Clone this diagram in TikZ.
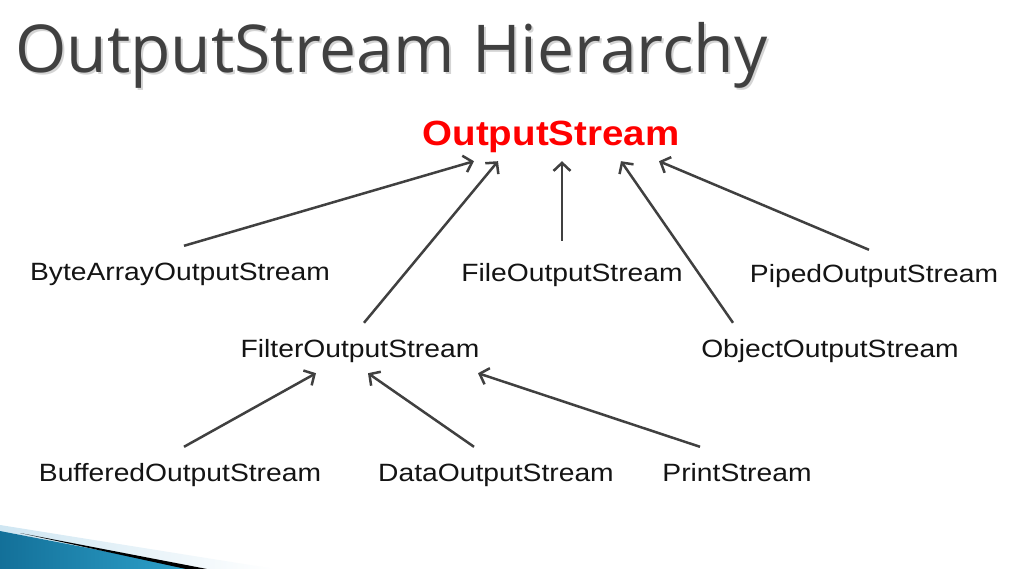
\documentclass[tikz,border=0pt]{standalone}
\usepackage{fontspec}
\setmainfont{Liberation Sans}
\newfontfamily\titlefont{Open Sans}
\usetikzlibrary{arrows.meta}

\definecolor{titlegray}{HTML}{404040}
\definecolor{shadowgray}{HTML}{D4D4D4}
\definecolor{arrowgray}{HTML}{404040}
\definecolor{rootred}{HTML}{FF0000}
\definecolor{slideblue}{HTML}{2FA3CC}
\definecolor{slidedark}{HTML}{137099}
\definecolor{slidelight}{HTML}{CFE6F2}

\tikzset{
  cls/.style={inner sep=0pt, anchor=base, xscale=1.13, text=black!92,
    font=\fontsize{25}{30}\selectfont, text height=18pt, text depth=5pt},
  root/.style={inner sep=0pt, anchor=base, xscale=1.1, text=rootred,
    font=\fontsize{35}{42}\selectfont\bfseries, text height=26pt, text depth=8pt},
  inherit/.style={draw=arrowgray, line width=2.5pt,
    -{Straight Barb[length=8pt,width=17pt,line width=2.5pt]}}
}

\begin{document}
\begin{tikzpicture}[x=1pt,y=-1pt]
			\useasboundingbox (0,0) rectangle (1033,569);
			\fill[white] (0,0) rectangle (1033,569);
			
			% Title with soft shadow
			\node[anchor=base west, inner sep=0pt, text=shadowgray, font=\titlefont\fontsize{66}{76}\selectfont] at (17,75) {OutputStream Hierarchy};
			\node[anchor=base west, inner sep=0pt, text=titlegray, font=\titlefont\fontsize{66}{76}\selectfont] (title) at (15,73) {OutputStream Hierarchy};
			
			% Base class
			\node[root] (out) at (551,146) {OutputStream};
			
			% Direct subclasses
			\node[cls] (bytearray) at (180,280) {ByteArrayOutputStream};
			\node[cls] (file) at (572,281) {FileOutputStream};
			\node[cls] (piped) at (874,283) {PipedOutputStream};
			\node[cls] (filter) at (360,357) {FilterOutputStream};
			\node[cls] (object) at (830,357) {ObjectOutputStream};
			
			% Subclasses of the filter stream
			\node[cls] (buffered) at (180,481) {BufferedOutputStream};
			\node[cls] (data) at (496,481) {DataOutputStream};
			\node[cls] (print) at (737,481) {PrintStream};
			
			% Arrows up to OutputStream
			\draw[inherit] ([xshift=4pt,yshift=16pt]bytearray.north) -- ([xshift=-77pt,yshift=-7pt]out.south);
			\draw[inherit] ([xshift=4pt,yshift=16pt]filter.north) -- ([xshift=-53pt,yshift=-7pt]out.south);
			\draw[inherit] ([xshift=-10pt,yshift=22pt]file.north) -- ([xshift=11pt,yshift=-7pt]out.south);
			\draw[inherit] ([xshift=-97pt,yshift=16pt]object.north) -- ([xshift=70pt,yshift=-7pt]out.south);
			\draw[inherit] ([xshift=-5pt,yshift=15pt]piped.north) -- ([xshift=108pt,yshift=-7pt]out.south);
			
			% Arrows up to FilterOutputStream
			\draw[inherit] ([xshift=4pt,yshift=16pt]buffered.north) -- ([xshift=-44pt,yshift=-11pt]filter.south);
			\draw[inherit] ([xshift=-22pt,yshift=16pt]data.north) -- ([xshift=8pt,yshift=-11pt]filter.south);
			\draw[inherit] ([xshift=-37pt,yshift=16pt]print.north) -- ([xshift=118pt,yshift=-11pt]filter.south);
			
			% Slide decoration, bottom left
			\shade[left color=slidelight, right color=white] (0,525) -- (275,569) -- (195,569) -- (0,531) -- cycle;
			\shade[left color=slidedark, right color=slideblue] (0,531) -- (197,569) -- (0,569) -- cycle;
			\fill[black] (20,533) -- (207,569) -- (186,569) -- cycle;
		\end{tikzpicture}
\end{document}
